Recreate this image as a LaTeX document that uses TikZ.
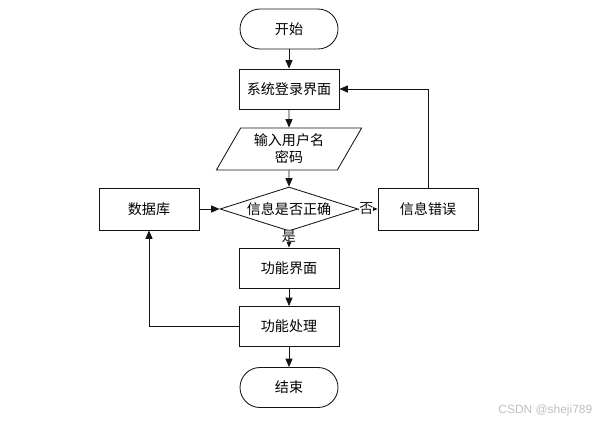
\documentclass[tikz,border=0pt]{standalone}
\usepackage{xcolor}
\usepackage{fontspec}
\usepackage{tikz}
\usetikzlibrary{shapes.geometric, arrows.meta, positioning, calc}
\newfontfamily\cjk{Noto Sans CJK SC}
\setsansfont{Liberation Sans}
\definecolor{mydark}{RGB}{20,20,20}
\definecolor{mymark}{RGB}{190,190,190}
\tikzset{
  stepbox/.style={rectangle, draw=mydark, fill=white,
    minimum width=2.5cm, minimum height=1.0cm,
    font=\cjk\fontsize{10}{12}\selectfont, line width=0.6pt},
  sidebox/.style={stepbox, minimum height=1.05cm},
  termbox/.style={rectangle, draw=mydark, fill=white, rounded corners=0.5cm,
    minimum width=2.45cm, minimum height=1.0cm,
    font=\cjk\fontsize{10}{12}\selectfont, line width=0.6pt},
  iobox/.style={trapezium, trapezium left angle=63, trapezium right angle=117,
    trapezium stretches=true, draw=mydark, fill=white,
    minimum width=3.65cm, minimum height=1.05cm, align=center,
    font=\cjk\fontsize{10}{12}\selectfont, line width=0.6pt},
  decbox/.style={diamond, aspect=3.14, inner sep=0pt, draw=mydark, fill=white,
    minimum width=3.45cm, minimum height=1.1cm,
    font=\cjk\fontsize{10}{12}\selectfont, line width=0.6pt},
  arrow/.style={-{Triangle[length=6pt,width=5pt]}, line width=0.6pt, color=mydark},
  tag/.style={fill=white, inner sep=0pt, font=\cjk\fontsize{10}{12}\selectfont}
}

\begin{document}
\begin{tikzpicture}
  \useasboundingbox (0,0) rectangle (15,10.55);
  % main column
  \node[termbox] (start) at (7.225,9.825) {开始};
  \node[stepbox] (login) at (7.225,8.325) {系统登录界面};
  \node[iobox] (input) at (7.225,6.825) {输入用户名\\密码};
  \node[decbox] (check) at (7.225,5.325) {信息是否正确};
  \node[stepbox] (func) at (7.225,3.85) {功能界面};
  \node[stepbox] (proc) at (7.225,2.3875) {功能处理};
  \node[termbox] (stop) at (7.225,0.8625) {结束};
  % side boxes
  \node[sidebox] (db) at (3.725,5.325) {数据库};
  \node[sidebox] (err) at (10.7,5.325) {信息错误};
  % arrows
  \draw[arrow] (start) -- (login);
  \draw[arrow] (login) -- (input);
  \draw[arrow] (input) -- (check);
  \draw[arrow] (check) -- (func) node[tag, pos=0.3] {是};
  \draw[arrow] (func) -- (proc);
  \draw[arrow] (proc) -- (stop);
  \draw[arrow] (check.east) -- (err.west) node[tag, pos=0.42] {否};
  \draw[arrow] (db) -- (check.west);
  \draw[arrow] (err.north) |- (login.east);
  \draw[arrow] (proc.west) -| (db.south);
  % watermark
  \node[color=mymark, font=\sffamily\fontsize{8.5}{10}\selectfont, anchor=east] (mark) at (14.93,0.28) {CSDN @sheji789};
\end{tikzpicture}
\end{document}
